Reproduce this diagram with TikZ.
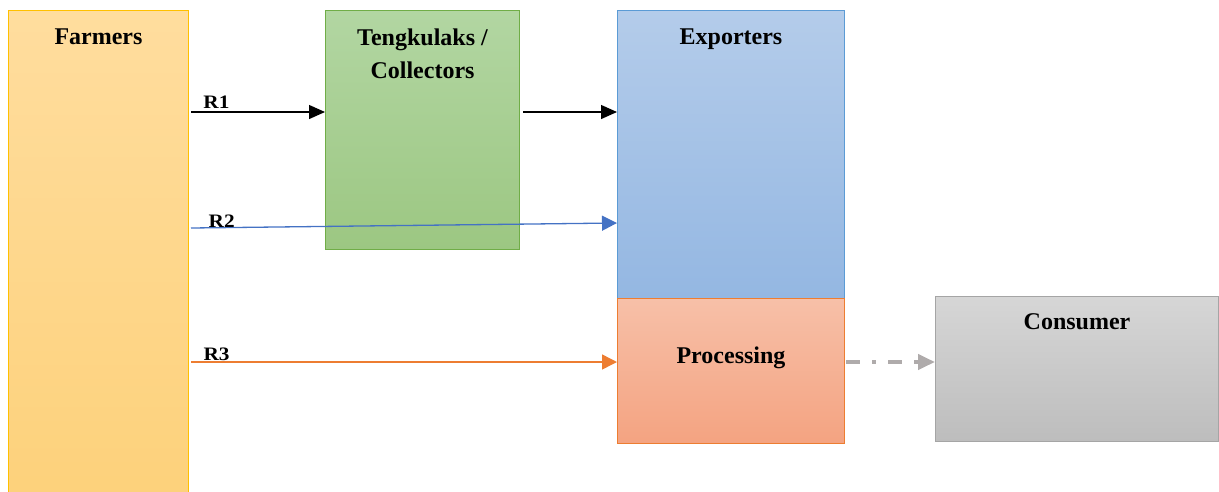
\documentclass[tikz,border=0pt]{standalone}
\usepackage{fontspec}
\setmainfont{Liberation Serif}
\usetikzlibrary{arrows.meta, positioning}

\definecolor{farmTop}{HTML}{FFDD9E}
\definecolor{farmBot}{HTML}{FDD17A}
\definecolor{farmLine}{HTML}{FFC000}
\definecolor{collTop}{HTML}{B2D6A2}
\definecolor{collBot}{HTML}{9CC782}
\definecolor{collLine}{HTML}{70AD47}
\definecolor{expTop}{HTML}{B4CCEA}
\definecolor{expBot}{HTML}{94B7E2}
\definecolor{expLine}{HTML}{5B9BD5}
\definecolor{procTop}{HTML}{F7C0A8}
\definecolor{procBot}{HTML}{F4A381}
\definecolor{procLine}{HTML}{ED7D31}
\definecolor{consTop}{HTML}{D6D6D6}
\definecolor{consBot}{HTML}{BDBDBD}
\definecolor{consLine}{HTML}{A5A5A5}
\definecolor{routeTwo}{HTML}{4472C4}
\definecolor{routeThree}{HTML}{ED7D31}
\definecolor{toConsumer}{HTML}{AFABAB}

\begin{document}
\begin{tikzpicture}[x=1pt, y=-1pt,
	box/.style={draw, rectangle, inner sep=0pt, anchor=north west, line width=1pt},
	title/.style={font=\fontsize{24}{33}\selectfont\bfseries, inner sep=0pt, anchor=base, align=center},
	flow/.style={-{Triangle[length=16pt,width=14pt]}, line width=1.3pt},
	rlabel/.style={font=\fontsize{19}{19}\selectfont\bfseries, inner sep=0pt, anchor=base, xscale=1.12, transform shape}]
	\clip (0,0) rectangle (1219,491);

	% actors along the chain
	\node[box, minimum width=180pt, minimum height=500pt, top color=farmTop, bottom color=farmBot, draw=farmLine] (farmers) at (8,10) {};
	\node[box, minimum width=194pt, minimum height=239pt, top color=collTop, bottom color=collBot, draw=collLine] (collectors) at (325,10) {};
	\node[box, minimum width=227pt, minimum height=288pt, top color=expTop, bottom color=expBot, draw=expLine] (exporters) at (617,10) {};
	\node[box, minimum width=227pt, minimum height=145pt, top color=procTop, bottom color=procBot, draw=procLine] (processing) at (617,298) {};
	\node[box, minimum width=283pt, minimum height=145pt, top color=consTop, bottom color=consBot, draw=consLine] (consumer) at (935,296) {};

	% titles
	\node[title] (farmersT) at ([yshift=-34pt]farmers.north) {Farmers};
	\node[title] (collectorsT) at ([yshift=-68pt]collectors.north) {Tengkulaks /\\Collectors};
	\node[title] (exportersT) at ([yshift=-34pt]exporters.north) {Exporters};
	\node[title] (processingT) at ([yshift=-65pt]processing.north) {Processing};
	\node[title] (consumerT) at ([yshift=-33pt]consumer.north) {Consumer};

	% routes
	\draw[flow] ([yshift=-102pt, xshift=2pt]farmers.north east) -- ([yshift=-102pt]collectors.north west)
		node[rlabel, pos=0.19, yshift=4pt] {R1};
	\draw[flow] ([yshift=-102pt, xshift=3pt]collectors.north east) -- ([yshift=-102pt]exporters.north west);
	\draw[flow, routeTwo, -{Triangle[length=15pt,width=15pt]}] ([yshift=-218pt, xshift=2pt]farmers.north east) -- ([yshift=-213pt]exporters.north west)
		node[rlabel, black, pos=0.072] {R2};
	\draw[flow, routeThree, line width=1.5pt, -{Triangle[length=15pt,width=15pt]}] ([yshift=-352pt, xshift=2pt]farmers.north east) -- ([yshift=-64pt]processing.north west)
		node[rlabel, black, pos=0.06, yshift=1.3pt] {R3};
	\draw[toConsumer, line width=4pt, dash pattern=on 14pt off 12pt on 4pt off 12pt, -{Triangle[length=17pt,width=15pt]}]
		([yshift=-64pt, xshift=1pt]processing.north east) -- ([yshift=-66pt]consumer.north west);
\end{tikzpicture}
\end{document}
